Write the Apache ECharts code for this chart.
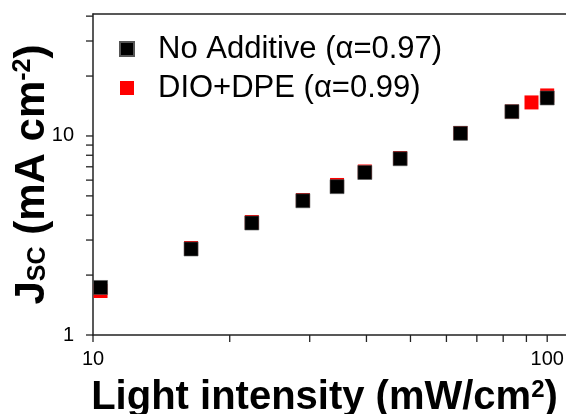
<!DOCTYPE html>
<html>
<head>
<meta charset="utf-8">
<script src="https://cdn.jsdelivr.net/npm/echarts@6/dist/echarts.min.js"></script>
<style>html,body{margin:0;padding:0;background:#fff;}#c{width:566px;height:414px;}</style>
</head>
<body>
<div id="c"></div>
<script>
// Light intensity (mW/cm2)
const xNoAdd = [10.39, 16.44, 22.37, 28.98, 34.46, 39.67, 47.45, 64.42, 83.62, 100];
const yNoAdd = [1.733, 2.705, 3.654, 4.725, 5.564, 6.554, 7.683, 10.31, 13.25, 15.52];
const xDio = [10.39, 16.44, 22.37, 28.98, 34.46, 39.67, 47.45, 64.42, 83.62, 92.35, 100];
const yDio = [1.664, 2.736, 3.697, 4.769, 5.673, 6.63, 7.75, 10.35, 13.28, 14.74, 15.98];
const seriesNames = ['No Additive (\u03b1=0.97)', 'DIO+DPE (\u03b1=0.99)'];
const xMin = 10, xMax = 110, yMin = 1, yMax = 41;
const xLabelVals = [10, 100];
const xTickVals = [10, 20, 30, 40, 50, 60, 70, 80, 90, 100];
const yLabelVals = [1, 10];
const yTickVals = [1, 2, 3, 4, 5, 6, 7, 8, 9, 10, 20, 30, 40];

const pairs = (xs, ys) => xs.map((x, i) => [x, ys[i]]);
const font = 'Liberation Sans, Arial, sans-serif';
const axisCol = '#222';

const chart = echarts.init(document.getElementById('c'), null, {renderer: 'canvas'});
chart.setOption({
  animation: false,
  backgroundColor: '#fff',
  grid: {left: 93, top: 14, right: 0, bottom: 79, containLabel: false, outerBoundsMode: 'none'},
  legend: {
    orient: 'vertical', left: 114, top: 27,
    itemWidth: 14, itemHeight: 14, itemGap: 5,
    icon: 'rect',
    data: seriesNames,
    textStyle: {fontFamily: font, fontSize: 31, lineHeight: 34, color: '#000', padding: [0, 0, 0, 19]}
  },
  xAxis: [{
    type: 'log', logBase: 10, min: xMin, max: xMax,
    position: 'bottom',
    name: 'Light intensity (mW/cm{s|2})',
    nameLocation: 'middle', nameGap: 43, nameMoveOverlap: false,
    nameTextStyle: {
      fontFamily: font, fontSize: 40, fontWeight: 'bold', color: '#000', padding: [0, 10, 0, 0],
      rich: {s: {fontFamily: font, fontSize: 24, fontWeight: 'bold', color: '#000', verticalAlign: 'top', padding: [0, 0, 15, 0]}}
    },
    axisLine: {show: true, lineStyle: {color: axisCol, width: 1.5}},
    axisTick: {show: false},
    axisLabel: {show: true, customValues: xLabelVals, margin: 14, fontFamily: font, fontSize: 20, color: '#000'},
    splitLine: {show: false}, minorTick: {show: false}
  }, {
    type: 'log', logBase: 10, min: xMin, max: xMax, position: 'top',
    axisLine: {show: true, lineStyle: {color: axisCol, width: 1.5}},
    axisTick: {show: false}, axisLabel: {show: false}, splitLine: {show: false}
  }],
  yAxis: {
    type: 'log', logBase: 10, min: yMin, max: yMax,
    name: 'J{sub|SC} (mA cm{sup|-2})',
    nameLocation: 'middle', nameGap: 40, nameRotate: 90, nameMoveOverlap: false,
    nameTextStyle: {
      fontFamily: font, fontSize: 42, fontWeight: 'bold', color: '#000',
      rich: {
        sub: {fontFamily: font, fontSize: 25, fontWeight: 'bold', color: '#000', padding: [13, 0, 0, 0]},
        sup: {fontFamily: font, fontSize: 25, fontWeight: 'bold', color: '#000', padding: [0, 0, 17, 0]}
      }
    },
    axisLine: {show: true, lineStyle: {color: axisCol, width: 1.5}},
    axisTick: {show: false},
    axisLabel: {show: true, customValues: yLabelVals, margin: 19, fontFamily: font, fontSize: 20, color: '#000'},
    splitLine: {show: false}, minorTick: {show: false}
  },
  series: [{
    name: 'xticks', type: 'custom', silent: true, clip: false, z: 1,
    data: xTickVals.map(v => [v, yMin]),
    renderItem: (params, api) => {
      const p = api.coord([api.value(0), api.value(1)]);
      return {type: 'line', shape: {x1: p[0], y1: p[1], x2: p[0], y2: p[1] + 7},
        style: {stroke: axisCol, lineWidth: 1.3}};
    }
  }, {
    name: 'yticks', type: 'custom', silent: true, clip: false, z: 1,
    data: yTickVals.map(v => [xMin, v]),
    renderItem: (params, api) => {
      const p = api.coord([api.value(0), api.value(1)]);
      return {type: 'line', shape: {x1: p[0] - 7, y1: p[1], x2: p[0], y2: p[1]},
        style: {stroke: axisCol, lineWidth: 1.3}};
    }
  }, {
    name: seriesNames[1], type: 'scatter', symbol: 'rect', symbolSize: 14, z: 2,
    itemStyle: {color: '#ff0000', opacity: 1},
    data: pairs(xDio, yDio)
  }, {
    name: seriesNames[0], type: 'scatter', symbol: 'rect', symbolSize: 14, z: 3,
    itemStyle: {color: '#000', opacity: 1, borderColor: '#555', borderWidth: 0.6},
    data: pairs(xNoAdd, yNoAdd)
  }]
});
</script>
</body>
</html>
